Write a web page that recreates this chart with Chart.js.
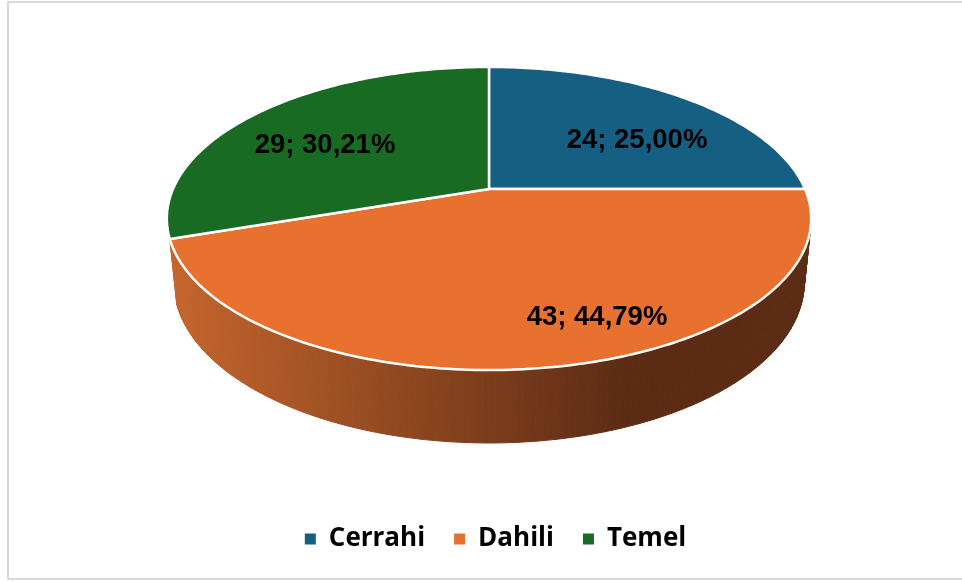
<!DOCTYPE html>
<html>
<head>
<meta charset="utf-8">
<title>Pie</title>
<script src="https://cdn.jsdelivr.net/npm/chart.js@4"></script>
<style>
  html, body { margin: 0; padding: 0; background: #fff; overflow: hidden; }
  #frame { position: absolute; left: 7px; top: 1px; width: 1000px; height: 575px; border: 2px solid #d9d9d9; }
  #wrap { position: absolute; left: 0; top: 0; width: 962px; height: 582px; }
</style>
</head>
<body>
<div id="frame"></div>
<div id="wrap"><canvas id="pie" width="962" height="582"></canvas></div>
<script>
// --- Data ---
const categories = ['Cerrahi', 'Dahili', 'Temel'];
const counts = [24, 43, 29];
const sliceColors = ['#156082', '#E87130', '#196B24'];
// only this slice shows its side wall in the picture
const slicesWithWall = ['Dahili'];

// --- Perspective of the pie top, fitted on the picture ---
const view = { x: 489, y: 189, rx: 316, ry: 145.8, k: 0.1947 };
// bottom rim goes towards a far vanishing point
const wall = { vx: 489, vy: 3240, c: 0.021 };

function topPoint(angle, r) {
  const u = Math.cos(angle) * r;
  const v = -Math.sin(angle) * r;
  const w = 1 + view.k * v;
  return { x: view.x + view.rx * u / w, y: view.y - view.ry * v / w, w: w };
}

function bottomPoint(angle) {
  const p = topPoint(angle, 1);
  const d = p.w + wall.c;
  return { x: (p.x * p.w + wall.c * wall.vx) / d, y: (p.y * p.w + wall.c * wall.vy) / d };
}

function sliceLabel(value) {
  const total = counts.reduce((a, b) => a + b, 0);
  return value + '; ' + (value / total * 100).toFixed(2).replace('.', ',') + '%';
}

const labelCenters = [[637, 140], [597, 317], [325, 145]];

const pie3d = {
  id: 'pie3d',
  beforeDatasetsDraw(chart) {
    const ctx = chart.ctx;
    const arcs = chart.getDatasetMeta(0).data;
    const step = Math.PI / 180;

    // side wall
    const shade = ctx.createLinearGradient(171, 0, 625, 0);
    shade.addColorStop(0, '#c5652d');
    shade.addColorStop(1, '#5c2b14');
    ctx.save();
    ctx.fillStyle = shade;
    ctx.strokeStyle = shade;
    ctx.lineWidth = 1;
    arcs.forEach((arc, i) => {
      if (!slicesWithWall.includes(categories[i])) return;
      for (let a = arc.startAngle; a < arc.endAngle; a += step) {
        const b = Math.min(a + step, arc.endAngle);
        const p1 = topPoint(a, 1), p2 = topPoint(b, 1), p3 = bottomPoint(b), p4 = bottomPoint(a);
        ctx.beginPath();
        ctx.moveTo(p1.x, p1.y);
        ctx.lineTo(p2.x, p2.y);
        ctx.lineTo(p3.x, p3.y);
        ctx.lineTo(p4.x, p4.y);
        ctx.closePath();
        ctx.fill();
        ctx.stroke();
      }
    });

    // top faces
    ctx.strokeStyle = '#ffffff';
    ctx.lineWidth = 2.5;
    ctx.lineJoin = 'round';
    arcs.forEach((arc, i) => {
      ctx.beginPath();
      ctx.moveTo(view.x, view.y);
      for (let a = arc.startAngle; a < arc.endAngle; a += step) {
        const p = topPoint(a, 1);
        ctx.lineTo(p.x, p.y);
      }
      const end = topPoint(arc.endAngle, 1);
      ctx.lineTo(end.x, end.y);
      ctx.closePath();
      ctx.fillStyle = sliceColors[i];
      ctx.fill();
      ctx.stroke();
    });

    // data labels
    ctx.fillStyle = '#000';
    ctx.font = 'bold 27.5px "Liberation Sans"';
    ctx.textAlign = 'center';
    ctx.textBaseline = 'middle';
    counts.forEach((value, i) => {
      ctx.fillText(sliceLabel(value), labelCenters[i][0], labelCenters[i][1]);
    });
    ctx.restore();
    return false;
  }
};

new Chart(document.getElementById('pie'), {
  type: 'pie',
  data: {
    labels: categories,
    datasets: [{
      data: counts,
      backgroundColor: sliceColors,
      borderWidth: 0
    }]
  },
  options: {
    responsive: false,
    animation: false,
    layout: { padding: { left: 29, bottom: 20 } },
    plugins: {
      tooltip: { enabled: false },
      legend: {
        position: 'bottom',
        labels: {
          boxWidth: 11,
          boxHeight: 11,
          padding: 29,
          color: '#000',
          font: { family: '"Open Sans"', size: 26, weight: '700' }
        }
      }
    }
  },
  plugins: [pie3d]
});
</script>
</body>
</html>
